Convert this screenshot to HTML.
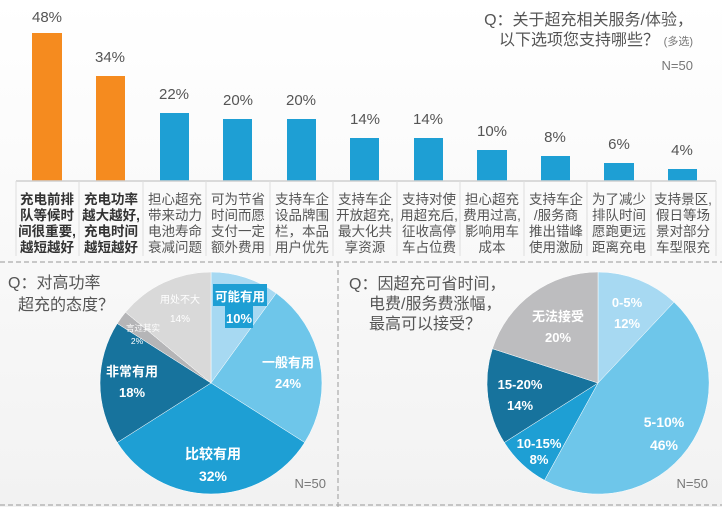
<!DOCTYPE html>
<html><head><meta charset="utf-8"><style>
body{margin:0;width:722px;height:507px;overflow:hidden;background:#f7f7f7;}
svg{display:block;font-family:"Liberation Sans","Noto Sans CJK SC",sans-serif;}
</style></head><body>
<svg width="722" height="507" viewBox="0 0 722 507" xmlns="http://www.w3.org/2000/svg">
<defs><linearGradient id="bg" x1="0" y1="0" x2="0" y2="1"><stop offset="0" stop-color="#ffffff"/><stop offset="1" stop-color="#f2f2f2"/></linearGradient></defs>
<rect width="722" height="507" fill="url(#bg)"/>
<g fill="#555" font-size="16" text-anchor="end">
<text x="693" y="25">Q：关于超充相关服务/体验，</text>
<text x="659" y="45">以下选项您支持哪些？</text>
<text x="693" y="45" font-size="11" fill="#777">(多选)</text>
<text x="693" y="70" font-size="13" fill="#777">N=50</text>
</g>
<g>
<rect x="32" y="33" width="30" height="148" fill="#f58b1f"/>
<rect x="96" y="76" width="29" height="105" fill="#f58b1f"/>
<rect x="160" y="113" width="29" height="68" fill="#1e9fd4"/>
<rect x="223" y="119" width="29" height="62" fill="#1e9fd4"/>
<rect x="287" y="119" width="29" height="62" fill="#1e9fd4"/>
<rect x="350" y="138" width="29" height="43" fill="#1e9fd4"/>
<rect x="414" y="138" width="29" height="43" fill="#1e9fd4"/>
<rect x="477" y="150" width="30" height="31" fill="#1e9fd4"/>
<rect x="541" y="156" width="29" height="25" fill="#1e9fd4"/>
<rect x="604" y="163" width="30" height="18" fill="#1e9fd4"/>
<rect x="668" y="169" width="29" height="12" fill="#1e9fd4"/>
</g>
<g fill="#555" font-size="15" text-anchor="middle">
<text x="47" y="22">48%</text><text x="110" y="62">34%</text><text x="174" y="99">22%</text>
<text x="238" y="105">20%</text><text x="301" y="105">20%</text><text x="365" y="124">14%</text>
<text x="428" y="124">14%</text><text x="492" y="136">10%</text><text x="555" y="142">8%</text>
<text x="619" y="149">6%</text><text x="682" y="155">4%</text>
</g>
<line x1="16" y1="181" x2="716" y2="181" stroke="#d0d0d0" stroke-width="1.5"/>
<g stroke="#dddddd" stroke-width="1">
<line x1="16" y1="181" x2="16" y2="256"/><line x1="79" y1="181" x2="79" y2="256"/><line x1="143" y1="181" x2="143" y2="256"/>
<line x1="206" y1="181" x2="206" y2="256"/><line x1="270" y1="181" x2="270" y2="256"/><line x1="333" y1="181" x2="333" y2="256"/>
<line x1="397" y1="181" x2="397" y2="256"/><line x1="460" y1="181" x2="460" y2="256"/><line x1="524" y1="181" x2="524" y2="256"/>
<line x1="587" y1="181" x2="587" y2="256"/><line x1="651" y1="181" x2="651" y2="256"/><line x1="716" y1="181" x2="716" y2="256"/>
</g>
<g fill="#555" font-size="13.5" text-anchor="middle">
<g font-weight="bold" fill="#333"><text x="47" y="204">充电前排</text><text x="47" y="220">队等候时</text><text x="47" y="236">间很重要,</text><text x="47" y="252">越短越好</text>
<text x="111" y="204">充电功率</text><text x="111" y="220">越大越好,</text><text x="111" y="236">充电时间</text><text x="111" y="252">越短越好</text></g>
<text x="175" y="204">担心超充</text><text x="175" y="220">带来动力</text><text x="175" y="236">电池寿命</text><text x="175" y="252">衰减问题</text>
<text x="238" y="204">可为节省</text><text x="238" y="220">时间而愿</text><text x="238" y="236">支付一定</text><text x="238" y="252">额外费用</text>
<text x="302" y="204">支持车企</text><text x="302" y="220">设品牌围</text><text x="302" y="236">栏，本品</text><text x="302" y="252">用户优先</text>
<text x="365" y="204">支持车企</text><text x="365" y="220">开放超充,</text><text x="365" y="236">最大化共</text><text x="365" y="252">享资源</text>
<text x="429" y="204">支持对使</text><text x="429" y="220">用超充后,</text><text x="429" y="236">征收高停</text><text x="429" y="252">车占位费</text>
<text x="492" y="204">担心超充</text><text x="492" y="220">费用过高,</text><text x="492" y="236">影响用车</text><text x="492" y="252">成本</text>
<text x="556" y="204">支持车企</text><text x="556" y="220">/服务商</text><text x="556" y="236">推出错峰</text><text x="556" y="252">使用激励</text>
<text x="619" y="204">为了减少</text><text x="619" y="220">排队时间</text><text x="619" y="236">愿跑更远</text><text x="619" y="252">距离充电</text>
<text x="683" y="204">支持景区,</text><text x="683" y="220">假日等场</text><text x="683" y="236">景对部分</text><text x="683" y="252">车型限充</text>
</g>
<g stroke="#aaa" stroke-width="1.2" stroke-dasharray="5,3" fill="none">
<line x1="0" y1="262" x2="722" y2="262"/><line x1="338" y1="262" x2="338" y2="507"/><line x1="0" y1="505" x2="722" y2="505"/>
</g>
<g stroke="#fff" stroke-width="0.5">
<path d="M211,383 L211,272 A111,111 0 0 1 276.2,293.2 Z" fill="#a7d9f2"/>
<path d="M211,383 L276.2,293.2 A111,111 0 0 1 304.7,442.5 Z" fill="#6ec6ea"/>
<path d="M211,383 L304.7,442.5 A111,111 0 0 1 117.3,442.5 Z" fill="#1e9fd4"/>
<path d="M211,383 L117.3,442.5 A111,111 0 0 1 117.3,323.5 Z" fill="#17739d"/>
<path d="M211,383 L117.3,323.5 A111,111 0 0 1 125.5,312.2 Z" fill="#b5b5b7"/>
<path d="M211,383 L125.5,312.2 A111,111 0 0 1 211,272 Z" fill="#d9d9d9"/>
</g>
<rect x="213" y="284" width="54" height="22" fill="#1e9fd4"/><rect x="225" y="306" width="28" height="22" fill="#1e9fd4"/>
<g fill="#fff" font-weight="bold" text-anchor="middle">
<text x="240" y="301" font-size="12.5">可能有用</text><text x="239" y="323" font-size="13">10%</text>
<text x="288" y="367" font-size="13">一般有用</text><text x="288" y="388" font-size="13">24%</text>
<text x="213" y="459" font-size="14">比较有用</text><text x="213" y="481" font-size="14">32%</text>
<text x="132" y="376" font-size="13">非常有用</text><text x="132" y="397" font-size="13">18%</text>
<text x="143" y="331" font-size="8.5" font-weight="normal">言过其实</text><text x="137" y="344" font-size="8.5" font-weight="normal">2%</text>
<text x="180" y="303" font-size="10" font-weight="normal">用处不大</text><text x="180" y="322" font-size="10" font-weight="normal">14%</text>
</g>
<g fill="#555" font-size="16"><text x="8" y="288">Q：对高功率</text><text x="18" y="310">超充的态度？</text></g>
<text x="326" y="488" fill="#777" font-size="13" text-anchor="end">N=50</text>
<g stroke="#fff" stroke-width="0.5">
<path d="M598,383 L598,272 A111,111 0 0 1 674,302.1 Z" fill="#a7d9f2"/>
<path d="M598,383 L674,302.1 A111,111 0 0 1 544.5,480.3 Z" fill="#6ec6ea"/>
<path d="M598,383 L544.5,480.3 A111,111 0 0 1 504.3,442.5 Z" fill="#1e9fd4"/>
<path d="M598,383 L504.3,442.5 A111,111 0 0 1 492.4,348.7 Z" fill="#17739d"/>
<path d="M598,383 L492.4,348.7 A111,111 0 0 1 598,272 Z" fill="#bdbdbf"/>
</g>
<g fill="#fff" font-weight="bold" text-anchor="middle" font-size="13">
<text x="627" y="307">0-5%</text><text x="627" y="328">12%</text>
<text x="664" y="427" font-size="14">5-10%</text><text x="664" y="450" font-size="14">46%</text>
<text x="539" y="448">10-15%</text><text x="539" y="464">8%</text>
<text x="520" y="389">15-20%</text><text x="520" y="410">14%</text>
<text x="558" y="321">无法接受</text><text x="558" y="342">20%</text>
</g>
<g fill="#555" font-size="16"><text x="349" y="289">Q：因超充可省时间，</text><text x="369" y="309">电费/服务费涨幅，</text><text x="369" y="329">最高可以接受？</text></g>
<text x="708" y="488" fill="#777" font-size="13" text-anchor="end">N=50</text>
</svg>
</body></html>
